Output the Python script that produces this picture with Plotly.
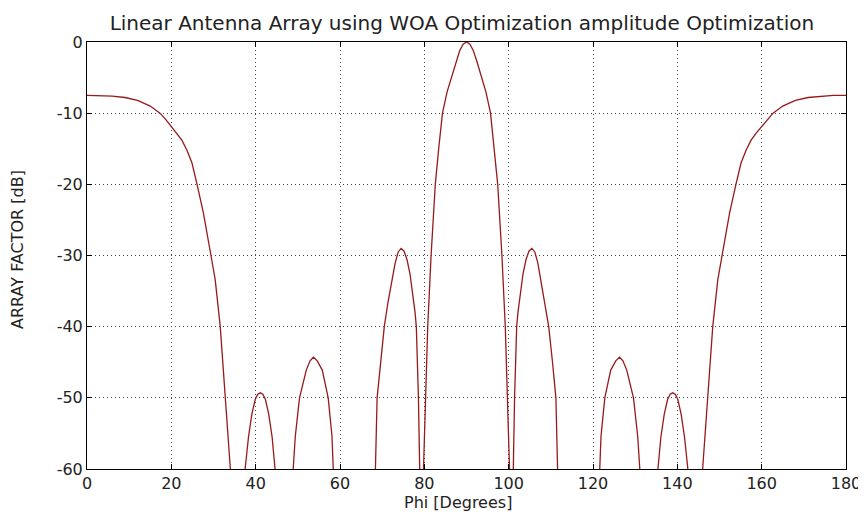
import plotly.graph_objects as go

# Values (Phi in degrees, array factor in dB)
# Nulls fall below the -60 dB axis floor; they are given as -100 dB.
phi_deg = [
    0, 3, 6, 9, 12, 15, 17.3, 18.7, 20, 21.3, 22.5, 23.7, 24.9, 26.1, 27.6, 29.4, 30.4, 31.6, 32.8, 34.0, 35.8,
    37.5, 38.3, 39.1, 39.9, 40.5, 41.1, 41.7, 42.3, 43.1, 43.9, 44.6, 46.7,
    48.9, 49.4, 50.4, 52.0, 52.9, 53.7, 54.6, 55.8, 57.2, 58.1, 58.4, 63.4,
    68.4, 68.8, 69.6, 70.5, 71.4, 72.4, 73.1, 73.8, 74.5, 75.2, 75.9, 76.6, 77.2, 77.8, 78.1, 78.6, 78.9, 79.35,
    79.8, 80.3, 80.8, 81.6, 82.6, 83.4, 84.3, 85.4, 86.7, 87.6, 88.4, 89.2, 90,
    90.8, 91.6, 92.4, 93.3, 94.6, 95.7, 96.6, 97.4, 98.4, 99.2, 99.7, 100.2,
    100.65, 101.1, 101.4, 101.9, 102.2, 102.8, 103.4, 104.1, 104.8, 105.5, 106.2, 106.9, 107.6, 108.6, 109.5, 110.4, 111.2, 111.6,
    116.6, 121.6, 121.9, 122.8, 124.2, 125.4, 126.3, 127.1, 128.0, 129.6, 130.6, 131.1,
    133.3, 135.4, 136.1, 136.9, 137.7, 138.3, 138.9, 139.5, 140.1, 140.9, 141.7, 142.5,
    144.2, 146.0, 147.2, 148.4, 149.6, 150.6, 152.4, 153.9, 155.1, 156.3, 157.5, 158.7, 160, 161.3, 162.7, 165, 168, 171, 174, 177, 180,
]
array_factor_db = [
    -7.5, -7.5, -7.6, -7.8, -8.2, -9.0, -10, -10.9, -11.9, -12.8, -13.8, -15.2, -17, -20, -24, -30, -33.4, -40, -50, -60, -100,
    -60, -55.5, -52.3, -50.2, -49.5, -49.3, -49.5, -50.2, -52.3, -55.5, -60, -100,
    -60, -55.4, -50, -46.1, -44.8, -44.3, -44.8, -46.1, -50, -55.4, -60, -100,
    -60, -50, -45, -40, -36.5, -33.4, -31.0, -29.5, -29.0, -29.4, -30.6, -32.6, -35, -38, -40, -50, -60, -100,
    -60, -50, -40, -30, -20, -15, -10, -7, -4.4, -2.6, -1.2, -0.3, 0,
    -0.3, -1.2, -2.6, -4.4, -7, -10, -15, -20, -30, -40, -50, -60,
    -100, -60, -50, -40, -38, -35, -32.6, -30.6, -29.4, -29.0, -29.5, -31.0, -33.4, -36.5, -40, -45, -50, -60,
    -100, -60, -55.4, -50, -46.1, -44.8, -44.3, -44.8, -46.1, -50, -55.4, -60,
    -100, -60, -55.5, -52.3, -50.2, -49.5, -49.3, -49.5, -50.2, -52.3, -55.5, -60,
    -100, -60, -50, -40, -33.4, -30, -24, -20, -17, -15.2, -13.8, -12.8, -11.9, -10.9, -10, -9.0, -8.2, -7.8, -7.6, -7.5, -7.5,
]

x_ticks = [0, 20, 40, 60, 80, 100, 120, 140, 160, 180]
y_ticks = [-60, -50, -40, -30, -20, -10, 0]

title_text = "Linear Antenna Array using WOA Optimization amplitude Optimization"
x_label = "Phi [Degrees]"
y_label = "ARRAY FACTOR [dB]"

FONT = "DejaVu Sans"
TXT = "#222222"

fig = go.Figure()
fig.add_trace(go.Scatter(
    x=phi_deg, y=array_factor_db, mode="lines",
    line=dict(color="#961a1a", width=1.3),
    showlegend=False, hoverinfo="x+y",
))

axis_common = dict(
    showline=True, linecolor="black", linewidth=1, mirror="ticks",
    ticks="inside", ticklen=5, tickcolor="black", tickwidth=1,
    showgrid=True, gridcolor="#444444", griddash="1px,3px", gridwidth=1,
    zeroline=False, ticklabeloverflow="allow",
    tickfont=dict(family=FONT, size=16, color=TXT),
)

# The page body adds an 8px offset, so the figure is sized 8px smaller.
fig.update_layout(
    width=858, height=506,
    margin=dict(l=79, r=20, t=34, b=45),
    paper_bgcolor="white", plot_bgcolor="white",
    title=dict(text=title_text, x=0.529, xanchor="center", y=0.970, yanchor="middle",
               font=dict(family=FONT, size=20, color=TXT)),
    xaxis=dict(range=[0, 180], tickvals=x_ticks, ticktext=[str(v) for v in x_ticks],
               automargin=False, **axis_common),
    yaxis=dict(range=[-60, 0], tickvals=y_ticks, ticktext=[str(v) for v in y_ticks],
               automargin=False, **axis_common),
    annotations=[
        dict(text=x_label, xref="paper", yref="paper", x=0.4888, y=0, xanchor="center",
             yanchor="middle", yshift=-33, showarrow=False,
             font=dict(family=FONT, size=16, color=TXT)),
        dict(text=y_label, xref="paper", yref="paper", x=-0.0909, y=0.513, xanchor="center",
             yanchor="middle", textangle=-90, showarrow=False,
             font=dict(family=FONT, size=16, color=TXT)),
    ],
)

fig.write_html("out.html")
